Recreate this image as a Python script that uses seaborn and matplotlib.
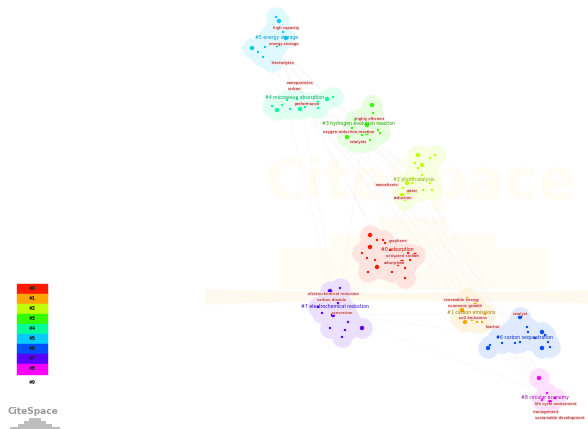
import numpy as np
import pandas as pd
import matplotlib
matplotlib.use("Agg")
import matplotlib.pyplot as plt
import matplotlib.colors as mcolors
from matplotlib.patches import Polygon, Rectangle
import seaborn as sns

sns.set_style("white")
plt.rcParams['font.family'] = ['DejaVu Sans']

# cluster colours (legend order #0..#8)
cluster_ids = ["#0", "#1", "#2", "#3", "#4", "#5", "#6", "#7", "#8"]
cluster_colors = ["#ff1a00", "#ffa500", "#c0ff00", "#33ff00", "#00ff99",
                  "#00ccff", "#0050ff", "#5a00ff", "#ff00ff"]
label_colors = ["#cc0000", "#9a7a00", "#88aa00", "#22a000", "#00a860",
                "#0099cc", "#0033cc", "#3300cc", "#9900aa"]

# node positions (pixel space, y down)
c0_x = [370, 377, 383, 385, 370, 362, 367, 375, 377, 392, 405, 398, 402, 405, 410, 408, 415, 368, 390, 395]
c0_y = [235, 240, 240, 243, 247, 253, 258, 260, 267, 272, 278, 265, 262, 268, 260, 253, 255, 272, 250, 257]
c1_x = [462, 468, 472, 477, 465, 467, 482, 460, 475, 485]
c1_y = [310, 317, 320, 322, 322, 298, 322, 318, 305, 314]
c2_x = [418, 435, 430, 415, 422, 418, 422, 413, 407, 412, 430, 403, 408, 417, 423, 432, 402, 405]
c2_y = [155, 155, 158, 163, 165, 168, 175, 178, 183, 183, 183, 188, 192, 192, 190, 190, 195, 200]
c3_x = [372, 373, 355, 360, 367, 352, 357, 362, 367, 372, 378, 380, 347, 355, 363, 370]
c3_y = [105, 113, 120, 119, 125, 128, 133, 135, 133, 133, 130, 133, 137, 142, 142, 140]
c4_x = [300, 305, 318, 313, 277, 282, 290, 333, 327, 297, 287, 307, 318, 272]
c4_y = [109, 107, 108, 105, 110, 105, 109, 97, 99, 99, 100, 103, 103, 106]
c5_x = [279, 283, 265, 277, 252, 258, 263, 272, 286, 276]
c5_y = [21, 32, 47, 46, 48, 52, 57, 62, 38, 17]
c6_x = [520, 527, 528, 535, 542, 545, 548, 550, 542, 520, 502, 490, 488, 515, 498]
c6_y = [317, 327, 332, 338, 332, 335, 342, 347, 348, 342, 343, 345, 348, 343, 337]
c7_x = [330, 340, 338, 322, 333, 348, 330, 345, 362, 342, 318]
c7_y = [291, 288, 303, 313, 315, 322, 328, 330, 328, 337, 307]
c8_x = [539, 547, 542, 555, 550]
c8_y = [378, 393, 400, 398, 402]
node_xs = [c0_x, c1_x, c2_x, c3_x, c4_x, c5_x, c6_x, c7_x, c8_x]
node_ys = [c0_y, c1_y, c2_y, c3_y, c4_y, c5_y, c6_y, c7_y, c8_y]

# cluster labels
cluster_names = ["#0 adsorption", "#1 carbon emissions", "#2 photocatalysis",
                 "#3 hydrogen evolution reaction", "#4 microwave absorption",
                 "#5 energy storage", "#6 carbon sequestration",
                 "#7 electrochemical reduction", "#8 circular economy"]
cluster_lx = [397, 471, 414, 359, 295, 277, 525, 335, 545]
cluster_ly = [249, 312, 179, 124, 97, 37, 337, 306, 398]

# keyword labels
terms = ["graphene", "activated carbon", "adsorption",
         "renewable energy", "economic growth", "co2 emissions",
         "nanosheets", "water", "reduction",
         "highly efficient", "oxygen reduction reaction", "catalysts",
         "nanoparticles", "carbon", "performance",
         "high capacity", "energy storage", "electrolytes",
         "catalyst", "biochar",
         "electrochemical reduction", "carbon dioxide", "conversion",
         "life cycle assessment", "management", "sustainable development"]
term_x = [398, 402, 394, 461, 465, 473, 387, 412, 403, 370, 349, 358,
          300, 295, 307, 286, 284, 283, 520, 493, 333, 332, 343, 556, 546, 560]
term_y = [241, 256, 263, 300, 306, 318, 185, 191, 198, 119, 132, 142,
          83, 89, 104, 28, 44, 63, 314, 327, 294, 300, 313, 404, 412, 418]

rows = []
for cid, xs, ys in zip(cluster_ids, node_xs, node_ys):
    for i, (x, y) in enumerate(zip(xs, ys)):
        rows.append({"cluster": cid, "x": x, "y": y, "size": 10 if i % 4 == 0 else 4})
nodes = pd.DataFrame(rows)
palette = dict(zip(cluster_ids, cluster_colors))


def hull(pts):
    pts = sorted(set(pts))
    if len(pts) < 3:
        return pts

    def cross(o, a, b):
        return (a[0] - o[0]) * (b[1] - o[1]) - (a[1] - o[1]) * (b[0] - o[0])
    lower, upper = [], []
    for p in pts:
        while len(lower) >= 2 and cross(lower[-2], lower[-1], p) <= 0:
            lower.pop()
        lower.append(p)
    for p in reversed(pts):
        while len(upper) >= 2 and cross(upper[-2], upper[-1], p) <= 0:
            upper.pop()
        upper.append(p)
    return lower[:-1] + upper[:-1]


def tint(c, f):
    r, g, b = mcolors.to_rgb(c)
    return (1 - f * (1 - r), 1 - f * (1 - g), 1 - f * (1 - b))


fig = plt.figure(figsize=(5.88, 4.29), dpi=100)
ax = fig.add_axes([0, 0, 1, 1])
ax.set_xlim(0, 588)
ax.set_ylim(429, 0)
ax.axis("off")

# faint CiteSpace watermark
wm = "#fffcf3"
ax.text(420, 183, "CiteSpace", fontsize=40, fontweight="bold", color=wm,
        ha="center", va="center", zorder=0)
ax.add_patch(Rectangle((380, 218), 65, 70, color=wm, zorder=0))
ax.add_patch(Rectangle((330, 235), 165, 53, color=wm, zorder=0))
ax.add_patch(Rectangle((280, 248), 265, 40, color=wm, zorder=0))
xx = np.linspace(205, 588, 100)
ax.fill_between(xx, 292 - 0.00008 * (xx - 410) ** 2, 300 + 0.0001 * (xx - 410) ** 2,
                color="#fff8ec", zorder=0, lw=0)

# faint links
for xs, ys in zip(node_xs, node_ys):
    for i in range(len(xs) - 1):
        ax.plot([xs[i], xs[i + 1]], [ys[i], ys[i + 1]], color="#e4e4e4", lw=0.3, zorder=1)
cx = [np.mean(xs) for xs in node_xs]
cy = [np.mean(ys) for ys in node_ys]
for i in range(len(cx)):
    for j in range(i + 1, len(cx)):
        ax.plot([cx[i], cx[j]], [cy[i], cy[j]], color="#f4f4f4", lw=0.3, zorder=1)

# cluster areas: hull pushed outwards plus soft discs
for col, xs, ys in zip(cluster_colors, node_xs, node_ys):
    light = tint(col, 0.12)
    h = np.array(hull(list(zip(xs, ys))), dtype=float)
    if len(h) >= 3:
        c = h.mean(axis=0)
        d = h - c
        n = np.linalg.norm(d, axis=1, keepdims=True)
        h = h + d / np.maximum(n, 1) * 7
        ax.add_patch(Polygon(h, closed=True, fc=light, ec="none", zorder=2,
                             joinstyle="round"))
    ax.scatter(xs, ys, s=220, color=light, lw=0, zorder=2)

sns.scatterplot(data=nodes, x="x", y="y", hue="cluster", palette=palette,
                size="size", sizes=(3, 10), legend=False, linewidth=0,
                ax=ax, zorder=4)
ax.set_xlim(0, 588)
ax.set_ylim(429, 0)
ax.axis("off")

for t, x, y in zip(terms, term_x, term_y):
    ax.text(x, y, t, fontsize=2.8, color="#990000", ha="center", va="center", zorder=5,
            bbox=dict(boxstyle="square,pad=0.05", fc="#ffe0e0", ec="none", alpha=0.8))
for name, x, y, c in zip(cluster_names, cluster_lx, cluster_ly, label_colors):
    ax.text(x, y, name, fontsize=3.3, color=c, ha="center", va="center", zorder=6)

# colour legend
for i, (cid, col) in enumerate(zip(cluster_ids, cluster_colors)):
    ax.add_patch(Rectangle((17, 284 + i * 10), 30, 10, color=col, zorder=5))
    ax.text(32, 289 + i * 10, cid, fontsize=3.3, fontweight="bold", color="#222222",
            ha="center", va="center", zorder=6)
ax.text(32, 382, "#9", fontsize=3.3, fontweight="bold", color="#222222",
        ha="center", va="center")

# CiteSpace logo
ax.text(33, 412, "CiteSpace", fontsize=6.5, fontweight="bold", color="#9a9a9a",
        ha="center", va="center")
steps = [(10, 50, 427), (18, 34, 424), (24, 22, 421), (29, 12, 418)]
for x0, w, y0 in steps:
    ax.add_patch(Rectangle((x0, y0), w, 429 - y0, color="#bdbdbd", zorder=3, lw=0))

fig.savefig("out.png", dpi=100)
